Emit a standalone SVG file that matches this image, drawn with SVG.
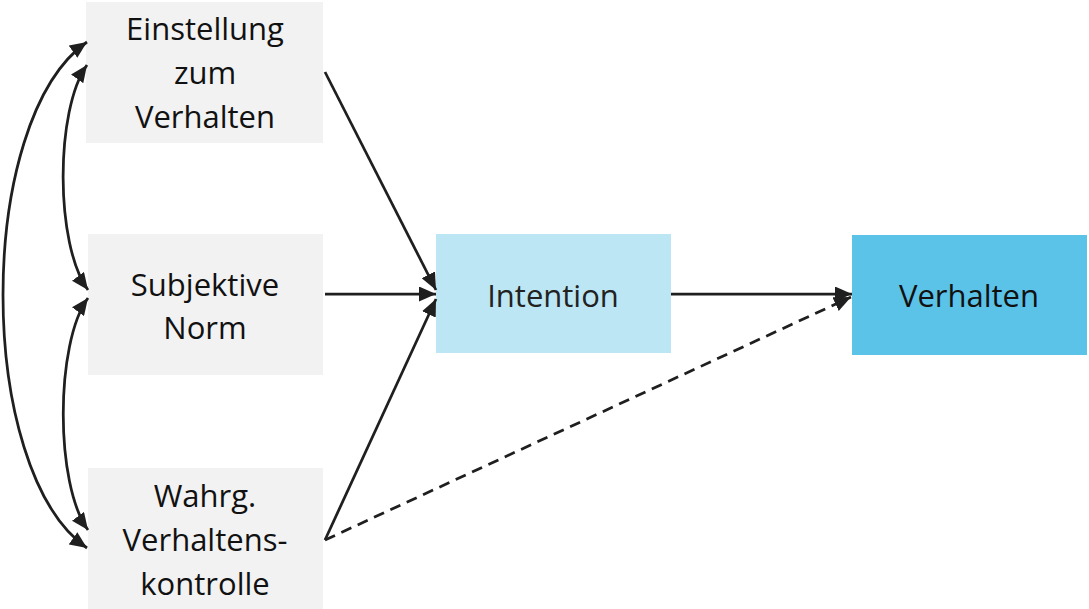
<svg xmlns="http://www.w3.org/2000/svg" width="1089" height="609" viewBox="0 0 1089 609">
<style>
.gray{fill:#f2f2f2}
.t{font-family:"Open Sans","Liberation Sans",sans-serif;font-size:31px;fill:#111111;text-anchor:middle}
.c{fill:none;stroke:#1f1f1f;stroke-width:2.75}
.d{stroke-dasharray:11 7}
</style>
<defs>
<marker id="ah" viewBox="0 0 17 15" refX="17" refY="7.5" markerWidth="17" markerHeight="15" markerUnits="userSpaceOnUse" orient="auto-start-reverse">
<path d="M0,0 L17,7.5 L0,15 Z" fill="#1f1f1f"/>
</marker>
</defs>
<rect width="1089" height="609" fill="#ffffff"/>
<g id="einstellung">
<rect class="gray" x="86" y="2" width="237" height="141"/>
<text class="t" x="205" y="40">Einstellung</text>
<text class="t" x="205" y="84">zum</text>
<text class="t" x="205" y="128">Verhalten</text>
</g>
<g id="subjektive">
<rect class="gray" x="88" y="234" width="235" height="141"/>
<text class="t" x="205" y="296">Subjektive</text>
<text class="t" x="205" y="339">Norm</text>
</g>
<g id="wahrg">
<rect class="gray" x="88" y="468" width="235" height="141"/>
<text class="t" x="205" y="507">Wahrg.</text>
<text class="t" x="205" y="551">Verhaltens-</text>
<text class="t" x="205" y="595">kontrolle</text>
</g>
<g id="intention">
<rect x="436" y="234" width="235" height="119" fill="#bde6f4"/>
<text class="t" x="553" y="307" style="fill:#222222">Intention</text>
</g>
<g id="verhalten">
<rect x="852" y="235" width="235" height="120" fill="#5bc3e8"/>
<text class="t" x="969" y="307">Verhalten</text>
</g>
<g id="connectors">
<path class="c" d="M87,42 C-25,120 -25,470 87,548" marker-start="url(#ah)" marker-end="url(#ah)"/>
<path class="c" d="M87,65 C55,110 55,245 88,290" marker-start="url(#ah)" marker-end="url(#ah)"/>
<path class="c" d="M88,298 C55,343 55,485 88,530" marker-start="url(#ah)" marker-end="url(#ah)"/>
<path class="c" d="M325,72 L436,290" marker-end="url(#ah)"/>
<path class="c" d="M325,294 L436,294" marker-end="url(#ah)"/>
<path class="c" d="M325,540 L436,299" marker-end="url(#ah)"/>
<path class="c" d="M671,294 L852,294" marker-end="url(#ah)"/>
<path class="c d" d="M325,540 L851,297" marker-end="url(#ah)"/>
</g>
</svg>
